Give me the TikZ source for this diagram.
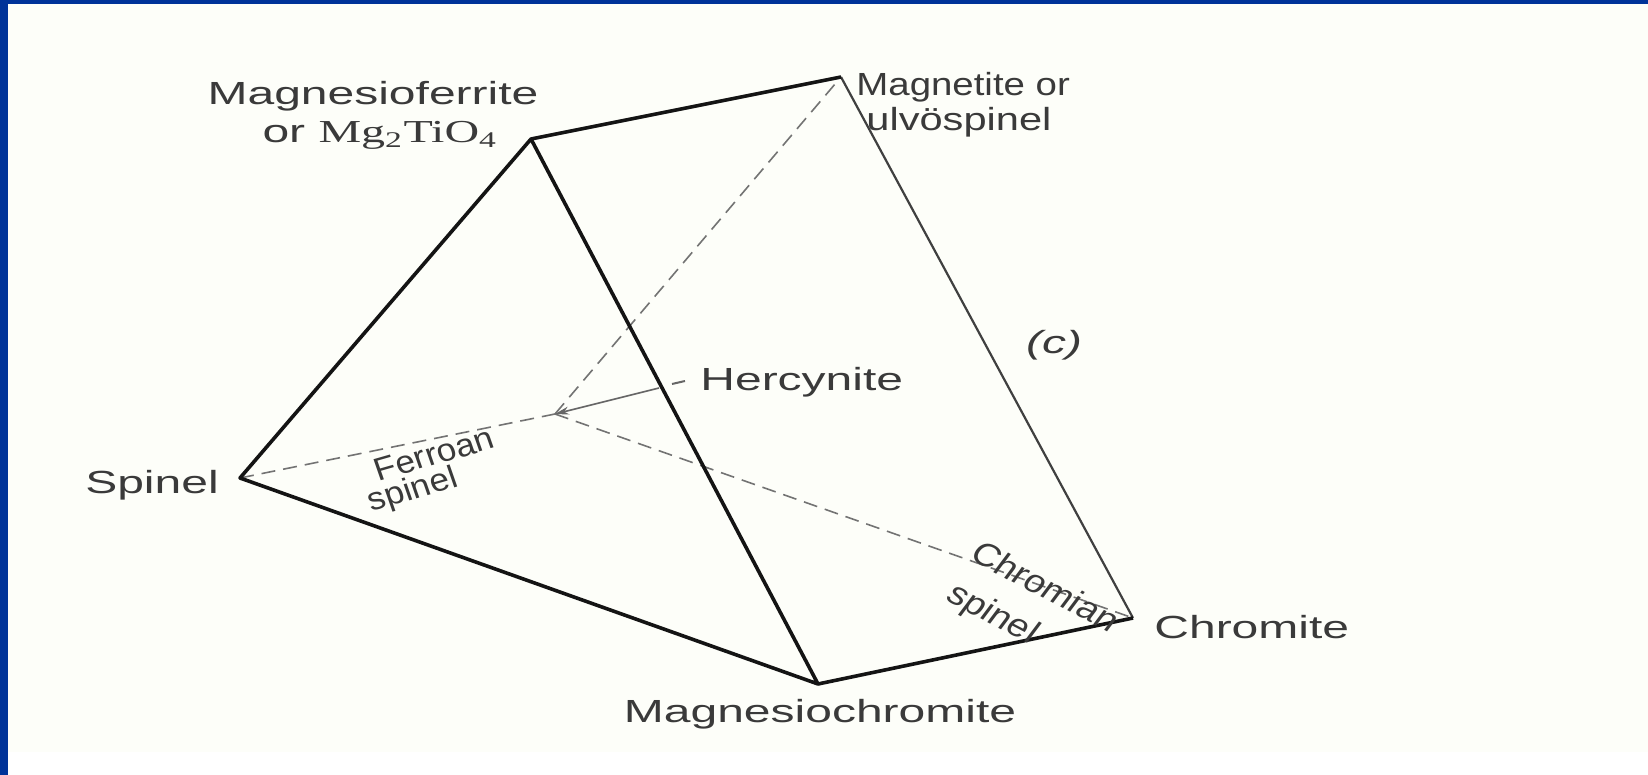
\documentclass[tikz,border=0pt]{standalone}
\usepackage{fontspec}
\setmainfont{Liberation Sans}
\newfontfamily\serifrm{Liberation Serif}
\usetikzlibrary{arrows.meta}
\definecolor{frameblue}{HTML}{003399}
\definecolor{paper}{HTML}{FDFEF9}
\definecolor{ink}{HTML}{3A3A3A}
\newcommand{\wide}[2][1.5]{\scalebox{#1}[1]{#2}}
\tikzset{
  lbl/.style={inner sep=0pt, text=ink, font=\fontsize{16}{18}\selectfont},
  front/.style={line width=1.8pt, draw=black!92, line join=round},
  back/.style={line width=1.1pt, draw=black!75},
  hidden/.style={line width=0.8pt, draw=black!55, dash pattern=on 7pt off 4pt},
  leader/.style={line width=0.8pt, draw=black!60}
}
\begin{document}
\begin{tikzpicture}[x=0.5pt,y=-0.5pt]
\useasboundingbox (0,0) rectangle (1648,775);
\fill[white] (0,0) rectangle (1648,775);
\fill[paper] (8,4) rectangle (1648,752);
\fill[frameblue] (0,0) rectangle (1648,4.5);
\fill[frameblue] (0,0) rectangle (8,775);

% vertices
\coordinate (S) at (240,478);
\coordinate (T) at (531,139);
\coordinate (M) at (841,77);
\coordinate (B) at (818,684);
\coordinate (C) at (1133,618);
\coordinate (H) at (555,414);
\coordinate (E) at (659,388);
\coordinate (D1) at (672,384);
\coordinate (D2) at (685,381);

% hidden edges
\draw[hidden] (S) -- (H);
\draw[hidden] (H) -- (M);
\draw[hidden] (H) -- (C);
% leader to Hercynite
\draw[leader, {Stealth[length=7pt,width=4pt]}-] (H) -- (E);
\draw[leader, line width=1pt] (D1) -- (D2);

% visible edges
\draw[back] (M) -- (C);
\draw[front] (C) -- (B);
\draw[front] (T) -- (M);
\draw[front] (S) -- (T) -- (B) -- cycle;

% labels
\node[lbl] (mf1) at (373,96) {\wide{Magnesioferrite}};
\node[lbl] (mf2) at (380,135) {\wide{or {\serifrm Mg\textsubscript{2}TiO\textsubscript{4}}}};
\node[lbl, anchor=west] (mt1) at (856,87) {\wide[1.2]{Magnetite or}};
\node[lbl, anchor=west] (mt2) at (866,122) {\wide[1.3]{ulvöspinel}};
\node[lbl] (cc) at (1054,345) {\wide{\itshape (c)}};
\node[lbl, anchor=west] (her) at (700,382) {\wide{Hercynite}};
\node[lbl] (sp) at (152,485) {\wide{Spinel}};
\node[lbl] (fe1) at (434,454) {\scalebox{1.1}[1]{\rotatebox{17.5}{Ferroan}}};
\node[lbl] (fe2) at (413,491) {\scalebox{1.1}[1]{\rotatebox{17.5}{spinel}}};
\node[lbl] (ch1) at (1046,586) {\scalebox{1.2}[1]{\rotatebox{-32}{Chromian}}};
\node[lbl] (ch2) at (992,615) {\scalebox{1.2}[1]{\rotatebox{-32}{spinel}}};
\node[lbl, anchor=west] (chr) at (1154,627) {\wide{Chromite}};
\node[lbl] (mc) at (820,714) {\wide{Magnesiochromite}};
\end{tikzpicture}
\end{document}
